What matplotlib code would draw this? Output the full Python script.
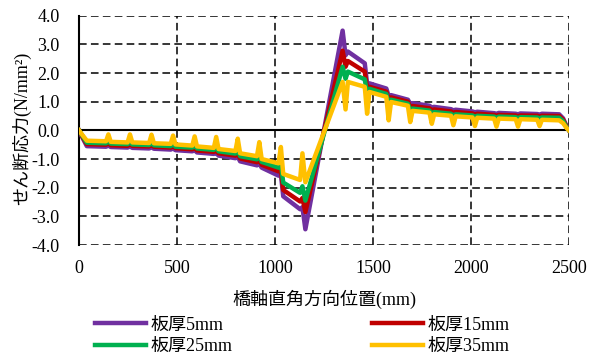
import matplotlib
matplotlib.use("Agg")
import matplotlib.pyplot as plt

plt.rcParams['font.family'] = ['Liberation Serif', 'Noto Sans CJK JP']
plt.rcParams['axes.unicode_minus'] = False

# position across bridge axis (mm)
pos = [0, 15, 40,
       138, 150, 162, 248, 260, 272, 358, 370, 382, 468, 480, 492,
       578, 590, 602, 688, 700, 712, 798, 810, 822, 908, 920, 932,
       1018, 1030, 1042, 1128, 1140, 1155,
       1345, 1360, 1372, 1458, 1470, 1482, 1568, 1580, 1592,
       1678, 1690, 1702, 1788, 1800, 1812, 1898, 1910, 1922,
       2008, 2020, 2032, 2118, 2130, 2142, 2228, 2240, 2252,
       2338, 2350, 2362, 2450, 2470, 2488, 2500]

# shear stress (N/mm2) for each plate thickness
t5 = [0, -0.22, -0.55,
      -0.57, -0.53, -0.58, -0.60, -0.56, -0.61, -0.63, -0.59, -0.64,
      -0.67, -0.63, -0.69, -0.73, -0.69, -0.77, -0.82, -0.78, -0.88,
      -0.97, -0.92, -1.08, -1.22, -1.16, -1.30, -1.58, -1.52, -2.30,
      -2.75, -2.68, -3.45,
      3.48, 2.62, 2.75, 2.34, 1.62, 1.64, 1.46, 1.20, 1.23,
      1.07, 0.93, 0.95, 0.86, 0.80, 0.82, 0.74, 0.70, 0.72,
      0.66, 0.63, 0.65, 0.60, 0.58, 0.61, 0.58, 0.56, 0.59,
      0.57, 0.55, 0.58, 0.56, 0.42, 0.14, 0]
t15 = [0, -0.19, -0.48,
       -0.50, -0.45, -0.52, -0.54, -0.49, -0.54, -0.56, -0.51, -0.57,
       -0.60, -0.55, -0.62, -0.66, -0.61, -0.70, -0.75, -0.70, -0.80,
       -0.88, -0.82, -0.98, -1.11, -1.03, -1.20, -1.43, -1.36, -2.08,
       -2.48, -2.36, -2.85,
       2.78, 2.22, 2.42, 2.05, 1.46, 1.52, 1.35, 1.08, 1.15,
       1.00, 0.82, 0.85, 0.77, 0.70, 0.73, 0.66, 0.61, 0.64,
       0.59, 0.55, 0.58, 0.54, 0.51, 0.54, 0.52, 0.49, 0.52,
       0.51, 0.48, 0.51, 0.50, 0.37, 0.12, 0]
t25 = [0, -0.16, -0.43,
       -0.45, -0.38, -0.46, -0.48, -0.41, -0.49, -0.51, -0.44, -0.52,
       -0.55, -0.47, -0.57, -0.60, -0.52, -0.63, -0.68, -0.58, -0.73,
       -0.81, -0.68, -0.90, -1.01, -0.86, -1.10, -1.30, -1.15, -1.82,
       -2.18, -1.95, -2.45,
       2.22, 1.80, 2.05, 1.78, 1.30, 1.45, 1.27, 0.95, 1.07,
       0.93, 0.70, 0.76, 0.69, 0.58, 0.64, 0.58, 0.52, 0.56,
       0.52, 0.47, 0.51, 0.48, 0.44, 0.48, 0.46, 0.43, 0.46,
       0.45, 0.42, 0.45, 0.44, 0.32, 0.10, 0]
t35 = [0, -0.14, -0.36,
       -0.38, -0.14, -0.40, -0.42, -0.14, -0.42, -0.44, -0.15, -0.45,
       -0.47, -0.18, -0.49, -0.53, -0.21, -0.56, -0.61, -0.23, -0.65,
       -0.72, -0.29, -0.80, -0.90, -0.41, -1.00, -1.15, -0.58, -1.52,
       -1.73, -0.80, -1.81,
       1.69, 0.73, 1.69, 1.52, 0.58, 1.34, 1.17, 0.35, 0.99,
       0.86, 0.29, 0.68, 0.62, 0.23, 0.56, 0.51, 0.18, 0.49,
       0.45, 0.15, 0.44, 0.41, 0.13, 0.41, 0.39, 0.13, 0.39,
       0.37, 0.15, 0.37, 0.35, 0.25, 0.08, 0]

labels = ['板厚5mm', '板厚15mm', '板厚25mm', '板厚35mm']
colors = ['#7030A0', '#C00000', '#00B050', '#FFC000']

fig = plt.figure(figsize=(6.03, 3.63), dpi=100)
ax = fig.add_axes([0.131, 0.325, 0.8126, 0.6317])

lines = []
for y, lab, c in zip([t5, t15, t25, t35], labels, colors):
    ln, = ax.plot(pos, y, color=c, lw=3.2, label=lab, zorder=3)
    lines.append(ln)

ax.set_xlim(0, 2500)
ax.set_ylim(-4, 4)
ax.set_xticks(range(0, 2501, 500))
ax.set_yticks([-4, -3, -2, -1, 0, 1, 2, 3, 4])
ax.set_yticklabels(['%.1f' % v for v in ax.get_yticks()])

ax.grid(True, color='black', lw=1.1, linestyle=(0, (5, 2.8)), zorder=1)
ax.set_axisbelow(True)
for s in ['top', 'right', 'bottom']:
    ax.spines[s].set_visible(False)
ax.spines['left'].set_linewidth(1.5)
ax.axhline(0, color='black', lw=1.5, zorder=2)

ax.tick_params(axis='both', length=0, labelsize=13)
ax.tick_params(axis='x', pad=11)
ax.tick_params(axis='y', pad=14)

ax.set_xlabel('橋軸直角方向位置(mm)', fontsize=13, labelpad=9)
ax.set_ylabel('せん断応力(N/mm²)', fontsize=13)
ax.yaxis.set_label_coords(-0.098, 0.51)

fig.legend([lines[0], lines[2], lines[1], lines[3]],
           [labels[0], labels[2], labels[1], labels[3]],
           ncol=2, loc='upper left', bbox_to_anchor=(0.1575, 0.128),
           frameon=False, fontsize=13, borderpad=0, borderaxespad=0,
           handlelength=2.8, handletextpad=0.3, columnspacing=7.7,
           labelspacing=0.25)

fig.savefig('out.png', dpi=100)
